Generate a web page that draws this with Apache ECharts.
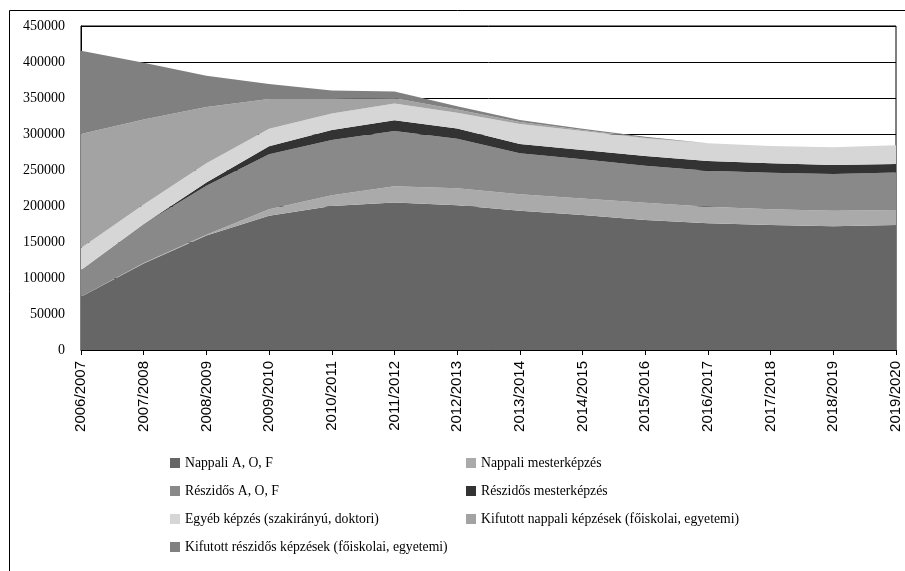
<!DOCTYPE html>
<html>
<head>
<meta charset="utf-8">
<script src="https://cdn.jsdelivr.net/npm/echarts@6/dist/echarts.min.js"></script>
<style>
html,body{margin:0;padding:0;background:#fff;}
#chart{width:905px;height:571px;}
</style>
</head>
<body>
<div id="chart"></div>
<script>
const categories = ['2006/2007','2007/2008','2008/2009','2009/2010','2010/2011','2011/2012','2012/2013','2013/2014','2014/2015','2015/2016','2016/2017','2017/2018','2018/2019','2019/2020'];
const seriesNames = ['Nappali A, O, F','Nappali mesterképzés','Részidős A, O, F','Részidős mesterképzés','Egyéb képzés (szakirányú, doktori)','Kifutott nappali képzések (főiskolai, egyetemi)','Kifutott részidős képzések (főiskolai, egyetemi)'];
const nappaliAOF = [74000,120000,159000,186500,200000,205000,201000,193500,187500,180500,176000,173500,172000,173500];
const nappaliMester = [0,1000,1000,9000,15000,22500,23500,22700,23000,24000,23000,22000,21500,21000];
const reszidosAOF = [37000,54000,68000,76500,76500,76500,69000,57000,54300,51500,50000,50800,51000,52000];
const reszidosMester = [0,0,4500,11000,14000,15200,14000,13000,13000,13400,13500,13000,12500,12000];
const egyeb = [30500,27000,27000,24200,23000,23000,22000,27800,26400,24600,24500,24000,24500,26000];
const kifutottNappali = [158500,118000,78000,41300,20000,7300,4500,2800,1400,800,0,0,0,0];
const kifutottReszidos = [115500,79000,43500,20800,12000,9500,4500,2700,1800,1500,0,0,0,0];
const yTicks = [0,50000,100000,150000,200000,250000,300000,350000,400000,450000];

const colors = ['#666666','#aaaaaa','#898989','#333333','#d6d6d6','#a3a3a3','#808080'];
const dataArr = [nappaliAOF,nappaliMester,reszidosAOF,reszidosMester,egyeb,kifutottNappali,kifutottReszidos];

const chart = echarts.init(document.getElementById('chart'));
const series = seriesNames.map((n,i)=>({
  name:n, type:'line', stack:'total', data:dataArr[i],
  symbol:'none', showSymbol:false,
  lineStyle:{width:0}, itemStyle:{color:colors[i]},
  areaStyle:{color:colors[i], opacity:1},
  emphasis:{disabled:true}, animation:false
}));
const legendText = {fontFamily:'Liberation Serif', fontSize:13.7, color:'#000', lineHeight:14};
chart.setOption({
  animation:false,
  grid:{left:81, right:9, top:26, bottom:221, show:true, borderColor:'#000', borderWidth:1, containLabel:false},
  xAxis:{type:'category', data:categories, boundaryGap:false,
    axisLine:{lineStyle:{color:'#000', width:1}},
    axisTick:{show:true, length:5, alignWithLabel:true, lineStyle:{color:'#000'}},
    axisLabel:{rotate:90, interval:0, margin:11, fontFamily:'Liberation Sans', fontSize:15, color:'#000'},
    splitLine:{show:false}},
  yAxis:{type:'value', min:yTicks[0], max:yTicks[yTicks.length-1], interval:yTicks[1]-yTicks[0],
    axisLine:{show:true, lineStyle:{color:'#000', width:1}},
    axisTick:{show:false},
    axisLabel:{margin:16, fontFamily:'Liberation Serif', fontSize:14, color:'#000', formatter:v=>String(v)},
    splitLine:{show:true, lineStyle:{color:'#000', width:1}}},
  legend:[
    {orient:'vertical', left:170, top:456, padding:0, itemWidth:10, itemHeight:10, itemGap:14, icon:'rect',
     data:[seriesNames[0],seriesNames[2],seriesNames[4],seriesNames[6]], textStyle:legendText, selectedMode:false},
    {orient:'vertical', left:466, top:456, padding:0, itemWidth:10, itemHeight:10, itemGap:14, icon:'rect',
     data:[seriesNames[1],seriesNames[3],seriesNames[5]], textStyle:legendText, selectedMode:false}
  ],
  graphic:[{type:'rect', shape:{x:9.5, y:10.5, width:1000, height:1000}, style:{fill:'none', stroke:'#000', lineWidth:1}, silent:true}],
  series:series
});
</script>
</body>
</html>
